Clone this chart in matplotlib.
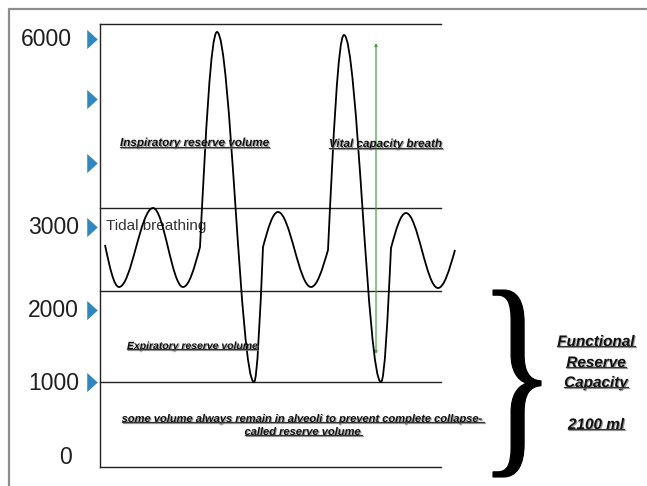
# %%
import numpy as np
import matplotlib
matplotlib.use("Agg")
import matplotlib.pyplot as plt
import matplotlib.patheffects as pe
from matplotlib.path import Path
from matplotlib.patches import PathPatch
from matplotlib.textpath import TextPath
from matplotlib.font_manager import FontProperties
from matplotlib.transforms import Affine2D

# %%
# volume labels on the left and where they sit (diagram units, y grows downward)
level_labels = ["6000", "3000", "2000", "1000", "0"]
level_label_x = [72, 79, 79, 79, 72]
level_label_y = [39, 227, 310, 383, 457]
arrow_y = [39, 99, 163, 227, 310, 382]

# horizontal reference lines: top, tidal top, tidal bottom, residual, bottom
level_lines_y = [24, 208, 291, 382, 467]

# spirogram key points (extrema and kinks) and the shape of each segment
wave_x = [105, 119, 153, 183, 200, 217, 254, 263, 278, 311, 328, 344, 381, 391, 406, 438, 455]
wave_y = [245, 287, 208, 287, 247, 32, 382, 247, 212, 287, 250, 35, 382, 248, 213, 288, 250]
wave_shape = ["out", "full", "full", "in", "out", "full", "in", "out",
              "full", "in", "out", "full", "in", "out", "full", "in"]

frc_lines = ["Functional", "Reserve", "Capacity", "", "2100 ml"]


# %%
def wave_path(xs, ys, shapes):
    verts = [(xs[0], ys[0])]
    codes = [Path.MOVETO]
    for i, kind in enumerate(shapes):
        x0, y0, x1, y1 = xs[i], ys[i], xs[i + 1], ys[i + 1]
        dx, dy = x1 - x0, y1 - y0
        if kind == "full":
            c1 = (x0 + 0.363 * dx, y0)
            c2 = (x1 - 0.363 * dx, y1)
        elif kind == "out":   # steep start, flat end
            c1 = (x0 + dx / 3, y0 + 0.5236 * dy)
            c2 = (x0 + 0.64 * dx, y1)
        else:                 # flat start, steep end
            c1 = (x1 - 0.64 * dx, y0)
            c2 = (x1 - dx / 3, y1 - 0.5236 * dy)
        verts += [c1, c2, (x1, y1)]
        codes += [Path.CURVE4] * 3
    return Path(verts, codes)


fig = plt.figure(figsize=(6.47, 4.86), dpi=100)
ax = fig.add_axes([0, 0, 1, 1])
ax.set_xlim(0, 647)
ax.set_ylim(486, 0)
ax.axis("off")

# outer frame (top and left only)
ax.plot([9, 9, 647], [486, 9, 9], color="#8c8c8c", lw=1.6, solid_capstyle="butt")

# reference lines
for y in level_lines_y:
    ax.plot([100, 441], [y, y], color="#222222", lw=1.0)
ax.plot([100, 100], [level_lines_y[0], level_lines_y[-1]], color="#222222", lw=1.0)

# labels and blue arrow markers
for lab, x, y in zip(level_labels, level_label_x, level_label_y):
    ax.text(x, y, lab, ha="right", va="center", fontsize=16.5,
            family="Liberation Sans", color="#1e1e1e")
tri = [(-0.55, -1.0), (0.55, 0.0), (-0.55, 1.0)]
ax.scatter([92] * len(arrow_y), arrow_y, marker=tri, s=190,
           color="#2f87bf", linewidths=0, zorder=3)

# spirogram
ax.add_patch(PathPatch(wave_path(wave_x, wave_y, wave_shape), fill=False,
                       edgecolor="black", lw=1.3, zorder=4))

# vital capacity arrow
ax.annotate("", xy=(376, 43), xytext=(376, 354),
            arrowprops=dict(arrowstyle="<|-|>", color="#4b9e4b", lw=0.9,
                            mutation_scale=4, shrinkA=0, shrinkB=0))

ax.text(106, 226, "Tidal breathing", ha="left", va="center", fontsize=11,
        family="Liberation Sans", color="#333333", zorder=2)

shadow = [pe.withSimplePatchShadow(offset=(0.8, -0.8), shadow_rgbFace="0.5", alpha=0.75)]
label_kw = dict(family="Liberation Sans", weight="bold", style="italic",
                color="#111111", path_effects=shadow, zorder=5)

notes = []
notes.append(ax.text(120, 143, "Inspiratory reserve volume", ha="left", va="center",
                     fontsize=8.4, **label_kw))
notes.append(ax.text(329, 144, "Vital capacity breath", ha="left", va="center",
                     fontsize=8.4, **label_kw))
notes.append(ax.text(127, 346, "Expiratory reserve volume", ha="left", va="center",
                     fontsize=7.5, **label_kw))
notes.append(ax.text(303, 419, "some volume always remain in alveoli to prevent complete collapse-",
                     ha="center", va="center", fontsize=8.0, **label_kw))
notes.append(ax.text(303, 432, "called reserve volume", ha="center", va="center",
                     fontsize=8.0, **label_kw))

frc_y = [342, 363, 383, 404, 425]
for s, y in zip(frc_lines, frc_y):
    if s:
        notes.append(ax.text(596, y, s, ha="center", va="center", fontsize=11, **label_kw))

# big curly brace, scaled into its box
tp = TextPath((0, 0), "}", size=100, prop=FontProperties(family="Liberation Serif"))
ext = tp.get_extents()
bx0, bx1, by0, by1 = 493, 541, 290, 477
tr = (Affine2D().translate(-ext.x0, -ext.y0)
      .scale((bx1 - bx0) / ext.width, -(by1 - by0) / ext.height)
      .translate(bx0, by1))
ax.add_patch(PathPatch(tr.transform_path(tp), facecolor="black", edgecolor="black", lw=0.8))

# underline the annotated labels
fig.canvas.draw()
inv = ax.transData.inverted()
for t in notes:
    bb = t.get_window_extent()
    yl = bb.y0 + 0.2 * bb.height
    (ux0, uy), (ux1, _) = inv.transform([[bb.x0, yl], [bb.x1, yl]])
    ax.plot([ux0, ux1], [uy, uy], color="#333333", lw=0.9, zorder=5,
            path_effects=[pe.SimpleLineShadow(offset=(0.8, -0.8), shadow_color="0.5", alpha=0.75),
                          pe.Normal()])

fig.savefig("out.png", dpi=100)
